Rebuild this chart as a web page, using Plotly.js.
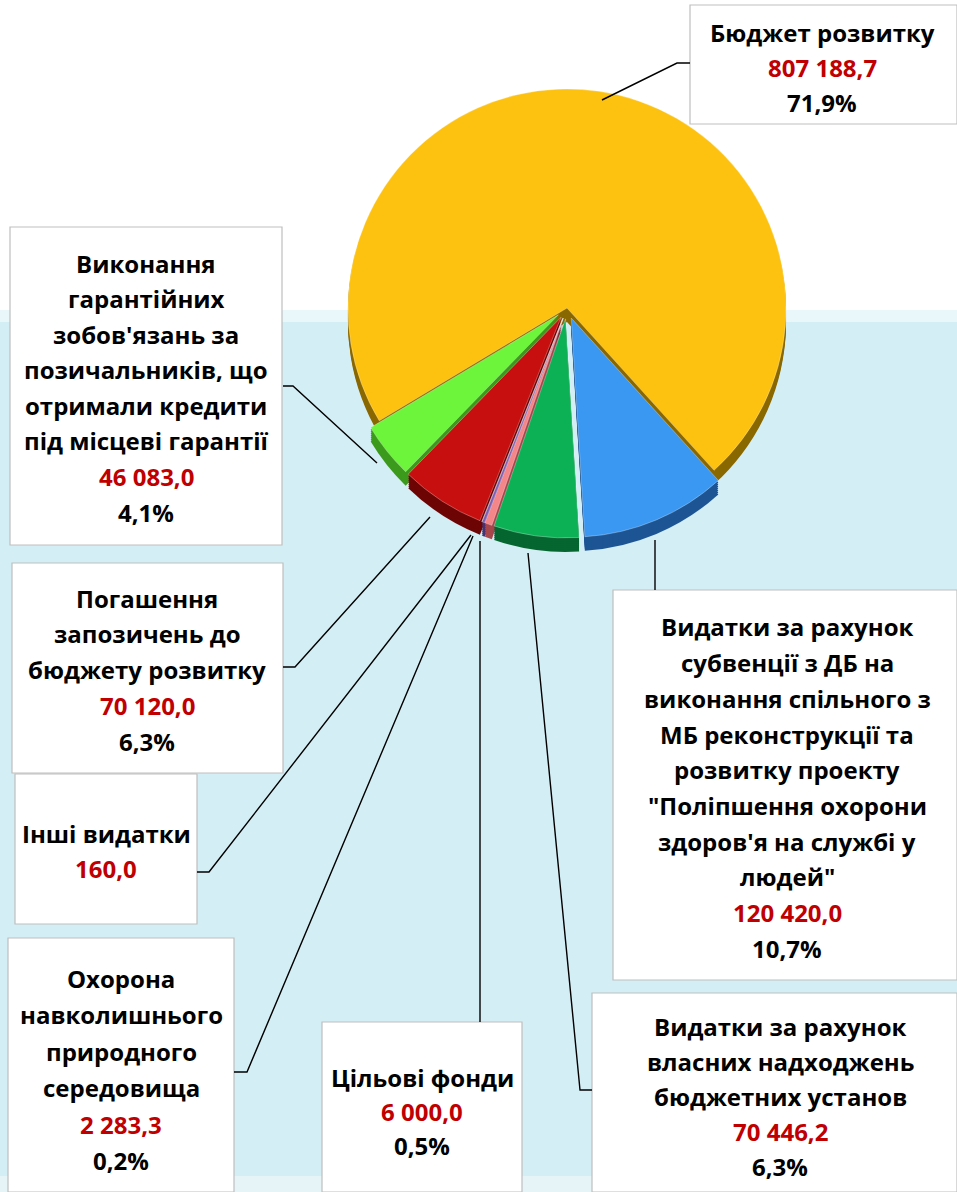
<!DOCTYPE html>
<html><head><meta charset="utf-8">
<script src="https://cdn.plot.ly/plotly-3.0.1.min.js"></script>
<style>html,body{margin:0;padding:0;background:#fff}</style>
</head><body><div id="chart" style="width:957px;height:1192px"></div>
<script>
// ---- data ----
const categories = [
  "Бюджет розвитку",
  "Видатки за рахунок<br>субвенції з ДБ на<br>виконання спільного з<br>МБ реконструкції та<br>розвитку проекту<br>\"Поліпшення охорони<br>здоров'я на службі у<br>людей\"",
  "Видатки за рахунок<br>власних надходжень<br>бюджетних установ",
  "Цільові фонди",
  "Охорона<br>навколишнього<br>природного<br>середовища",
  "Інші видатки",
  "Погашення<br>запозичень до<br>бюджету розвитку",
  "Виконання<br>гарантійних<br>зобов'язань за<br>позичальників, що<br>отримали кредити<br>під місцеві гарантії"
];
const values = [807188.7, 120420.0, 70446.2, 6000.0, 2283.3, 160.0, 70120.0, 46083.0];
const percentLabels = ["71,9%", "10,7%", "6,3%", "0,5%", "0,2%", "", "6,3%", "4,1%"];
const sliceColors = ["#FDC10F", "#3A98F2", "#0CB055", "#F4868A", "#7E5AB0", "#4F81BD", "#C80F0F", "#6CF53A"];
const rimColors   = ["#8A6800", "#1D5594", "#05662F", "#A8474C", "#4A2F73", "#2C4E7A", "#6E0505", "#3C9A1C"];
const pulls = [0, 0.05, 0.05, 0.05, 0.05, 0.05, 0.05, 0.05];

// ---- helpers ----
const W = 957, H = 1192;
const X = px => px / W;
const Y = py => 1 - py / H;
function fmt(v) {
  const s = v.toFixed(1).split(".");
  return s[0].replace(/\B(?=(\d{3})+(?!\d))/g, " ") + "," + s[1];
}
const FONT = "Open Sans, Noto Sans, sans-serif";
const FS = 24;

// ---- pie geometry ----
const cx = 567, cy = 308, halfDom = 230;
const traces = [];
const depth = 14, steps = 7;
for (let k = steps; k >= 1; k--) {
  const sh = depth * k / steps;
  traces.push({
    type: "pie", values: values, labels: categories, sort: false,
    direction: "clockwise", rotation: -121, pull: pulls,
    marker: {colors: rimColors, line: {width: 0}},
    textinfo: "none", hoverinfo: "skip", showlegend: false,
    domain: {x: [X(cx - halfDom), X(cx + halfDom)], y: [Y(cy + sh + halfDom), Y(cy + sh - halfDom)]}
  });
}
traces.push({
  type: "pie", values: values, labels: categories, sort: false,
  direction: "clockwise", rotation: -121, pull: pulls,
  marker: {colors: sliceColors, line: {width: 0.6, color: "rgba(255,255,255,0.5)"}},
  textinfo: "none", hoverinfo: "skip", showlegend: false,
  domain: {x: [X(cx - halfDom), X(cx + halfDom)], y: [Y(cy + halfDom), Y(cy - halfDom)]}
});

// ---- label boxes (layout) ----
const boxes = [
  {r: [690, 5, 957, 124],   cx: 822, y0: 33,  step: 35, lead: [[602,100],[677,63],[690,63]]},
  {r: [613, 590, 957, 980], cx: 787, y0: 627, step: 35.7, lead: [[655,540],[655,590]]},
  {r: [592, 993, 957, 1192],cx: 780, y0: 1026,step: 35, lead: [[528,553],[580,1090],[592,1090]]},
  {r: [322, 1022, 522, 1192],cx: 422, y0: 1077,step: 34, lead: [[480,541],[480,1022]]},
  {r: [8, 938, 234, 1192],  cx: 121, y0: 978, step: 36.5, lead: [[473,536],[247,1072],[234,1072]]},
  {r: [15, 774, 197, 924],  cx: 106, y0: 833, step: 35, lead: [[471,535],[209,872],[197,872]]},
  {r: [12, 563, 283, 773],  cx: 147, y0: 598, step: 35.8, lead: [[430,517],[295,667],[283,667]]},
  {r: [10, 227, 282, 545],  cx: 146, y0: 263, step: 35.6, lead: [[377,463],[293,386],[283,386]]}
];

const shapes = [
  {type: "rect", xref: "paper", yref: "paper", x0: 0, x1: 1, y0: Y(H), y1: Y(322), fillcolor: "#D4EEF5", line: {width: 0}, layer: "below"},
  {type: "rect", xref: "paper", yref: "paper", x0: 0, x1: 1, y0: Y(322), y1: Y(310), fillcolor: "#E9F6FA", line: {width: 0}, layer: "below"},
  {type: "rect", xref: "paper", yref: "paper", x0: 0, x1: 1, y0: Y(H), y1: Y(1176), fillcolor: "#E6F3F7", line: {width: 0}, layer: "below"}
];
const annotations = [];
boxes.forEach((b, i) => {
  shapes.push({type: "rect", xref: "paper", yref: "paper",
    x0: X(b.r[0]), x1: X(b.r[2]), y0: Y(b.r[3]), y1: Y(b.r[1]),
    fillcolor: "#FFFFFF", line: {color: "#BFBFBF", width: 1.2}, layer: "above"});
  let d = "M " + b.lead.map(p => X(p[0]) + " " + Y(p[1])).join(" L ");
  shapes.push({type: "path", xref: "paper", yref: "paper", path: d,
    line: {color: "#000000", width: 1.4}, layer: "above"});
  const lines = categories[i].split("<br>").map(t => ({t: t, c: "#000000"}));
  lines.push({t: fmt(values[i]), c: "#C00000"});
  if (percentLabels[i]) lines.push({t: percentLabels[i], c: "#000000"});
  lines.forEach((ln, j) => {
    annotations.push({xref: "paper", yref: "paper", x: X(b.cx), y: Y(b.y0 + j * b.step),
      xanchor: "center", yanchor: "middle", showarrow: false, text: "<b>" + ln.t + "</b>",
      font: {family: FONT, size: FS, color: ln.c}});
  });
});

const layout = {
  width: W, height: H, margin: {l: 0, r: 0, t: 0, b: 0},
  paper_bgcolor: "#FFFFFF", plot_bgcolor: "rgba(0,0,0,0)",
  showlegend: false, shapes: shapes, annotations: annotations
};
Plotly.newPlot("chart", traces, layout, {displayModeBar: false, staticPlot: true});
</script></body></html>
